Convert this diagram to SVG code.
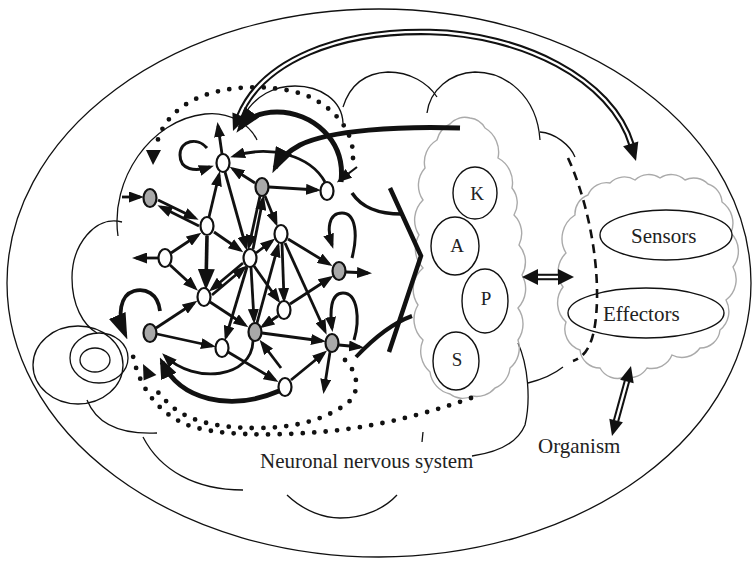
<svg xmlns="http://www.w3.org/2000/svg" width="754" height="563" viewBox="0 0 754 563">
<defs>
<style>
.thin{fill:none;stroke:#111;stroke-width:1.3}
.cloud{fill:none;stroke:#aaa;stroke-width:1.4}
.ar{fill:none;stroke:#111;stroke-width:2.8;marker-end:url(#ah)}
.ar3{fill:none;stroke:#111;stroke-width:3.6;marker-end:url(#ahB)}
.thick{fill:none;stroke:#111;stroke-width:5}
.dot{fill:none;stroke:#111;stroke-width:4.8;stroke-linecap:round;stroke-dasharray:0 11.5}
.nw{fill:#fff;stroke:#111;stroke-width:2.2}
.ng{fill:#a9a9a9;stroke:#111;stroke-width:2.2}
.lbl{font-family:"Liberation Serif","Times New Roman",serif;font-size:21px;fill:#222}
.ltr{font-family:"Liberation Serif","Times New Roman",serif;font-size:19px;fill:#222;text-anchor:middle}
.oval{fill:#fff;stroke:#111;stroke-width:1.4}
.dbl{fill:none;stroke:#111;stroke-width:6.5}
.dblw{fill:none;stroke:#fff;stroke-width:2.4}
.hd{fill:#111}
</style>
<marker id="ah" viewBox="0 0 15 11" refX="11" refY="5.5" markerWidth="15" markerHeight="11" markerUnits="userSpaceOnUse" orient="auto"><path d="M0,0 L15,5.5 L0,11 z" fill="#111"/></marker>
<marker id="ahB" viewBox="0 0 21 17" refX="16" refY="8.5" markerWidth="21" markerHeight="17" markerUnits="userSpaceOnUse" orient="auto"><path d="M0,0 L21,8.5 L0,17 z" fill="#111"/></marker>
<marker id="ahT" viewBox="0 0 26 18" refX="20" refY="9" markerWidth="26" markerHeight="18" markerUnits="userSpaceOnUse" orient="auto"><path d="M0,0 L26,9 L0,18 z" fill="#111"/></marker>
</defs>
<rect width="754" height="563" fill="#fff"/>

<g id="organism-outline">
<ellipse class="thin" cx="379" cy="283" rx="372" ry="274"/>
</g>

<g id="nervous-system-outline">
<path class="thin" d="M118,236 C110,180 150,120 205,114 C230,111 250,125 257,140"/>
<path class="thin" d="M122,222 C95,215 72,245 72,278 C72,305 83,325 97,333"/>
<path class="thin" d="M243,117 C255,95 275,86 295,86 C320,86 342,100 343,123"/>
<path class="thin" d="M343,107 C350,85 365,73 388,72 C410,72 428,83 437,97"/>
<path class="thin" d="M427,113 C430,90 450,73 475,72 C505,72 537,95 540,140"/>
<path class="thin" d="M540,132 C555,133 570,145 575,157"/>
<path class="thin" d="M518,343 C528,365 531,400 525,425 C518,442 500,452 472,456"/>
<path class="thin" d="M528,383 C540,380 553,375 563,367"/>
<path class="thin" d="M87,400 C95,420 115,435 157,433"/>
<path class="thin" d="M143,437 C160,470 195,490 243,490"/>
<path class="thin" d="M287,495 C305,512 325,518 340,518 C365,518 385,508 397,495"/>
<path class="thin" d="M423,432 L422,442"/>
<ellipse class="thin" cx="78" cy="365" rx="45" ry="39"/>
<ellipse class="thin" cx="99" cy="358" rx="29" ry="25"/>
<ellipse class="thin" cx="95" cy="360" rx="15" ry="12"/>
</g>

<g id="kaps-cloud">
<path class="cloud" d="M437,140 A24,24 0 0 1 450,124 A20,20 0 0 1 470,118 A20,20 0 0 1 485,128 A28,28 0 0 1 498,158 A28,28 0 0 1 512,188 A24,24 0 0 1 514,215 A26,26 0 0 1 519,245 A26,26 0 0 1 522,275 A28,28 0 0 1 518,308 A28,28 0 0 1 518,340 A26,26 0 0 1 510,368 A24,24 0 0 1 495,388 A24,24 0 0 1 472,396 A20,20 0 0 1 450,394 A26,26 0 0 1 430,372 A28,28 0 0 1 423,340 A28,28 0 0 1 418,305 A28,28 0 0 1 423,268 A28,28 0 0 1 419,235 A28,28 0 0 1 423,200 A26,26 0 0 1 425,168 A26,26 0 0 1 437,140 Z"/>
</g>
<g id="body-cloud">
<path class="cloud" d="M575,215 A20,20 0 0 1 588,195 A20,20 0 0 1 610,183 A20,20 0 0 1 635,180 A20,20 0 0 1 660,178 A20,20 0 0 1 685,180 A20,20 0 0 1 708,184 A20,20 0 0 1 722,202 A26,26 0 0 1 731,233 A26,26 0 0 1 733,267 A26,26 0 0 1 726,300 A24,24 0 0 1 720,330 A20,20 0 0 1 700,348 A22,22 0 0 1 672,355 A22,22 0 0 1 647,368 A20,20 0 0 1 625,377 A20,20 0 0 1 600,368 A20,20 0 0 1 580,350 A22,22 0 0 1 566,322 A26,26 0 0 1 563,287 A26,26 0 0 1 566,253 A28,28 0 0 1 575,215 Z"/>
</g>

<g id="K"><ellipse class="oval" cx="475" cy="193" rx="22" ry="26"/><text class="ltr" x="477" y="200">K</text></g>
<g id="A"><ellipse class="oval" cx="455" cy="246" rx="24" ry="29"/><text class="ltr" x="457" y="252">A</text></g>
<g id="P"><ellipse class="oval" cx="485" cy="301" rx="23" ry="32"/><text class="ltr" x="486" y="305">P</text></g>
<g id="S"><ellipse class="oval" cx="456" cy="361" rx="23" ry="29"/><text class="ltr" x="457" y="366">S</text></g>
<g id="sensors"><ellipse class="oval" cx="666" cy="235" rx="66" ry="25"/><text class="lbl" x="631" y="243">Sensors</text></g>
<g id="effectors"><ellipse class="oval" cx="646" cy="313" rx="78" ry="25"/></g>

<g id="connectors">
<path d="M568,158 C585,195 598,250 597,300 C596,335 590,355 573,361" fill="none" stroke="#111" stroke-width="2.6" stroke-dasharray="9 6"/>

<path class="dbl" d="M239,117 C262,60 340,30 430,32 C520,34 612,78 632,146"/>
<path class="dblw" d="M239,117 C262,60 340,30 430,32 C520,34 612,78 632,146"/>
<polygon class="hd" points="233,131 232.4,112.4 246.4,118"/>
<polygon class="hd" points="636,161 638.3,141.4 623.1,146.2"/>

<path class="dbl" d="M537,277 H559"/>
<path class="dblw" d="M536,277 H560"/>
<polygon class="hd" points="522,277 538,269 538,285"/>
<polygon class="hd" points="574,277 558,269 558,285"/>

<path class="dbl" d="M627,381 L616,421"/>
<path class="dblw" d="M627,381 L616,421"/>
<polygon class="hd" points="631,366 633.7,383.3 620.1,379.7"/>
<polygon class="hd" points="612,436 622.9,422.3 609.3,418.7"/>

<path class="dot" d="M353,158 C354,135 340,112 310,97 C285,86 240,83 205,95 C180,104 160,122 156,148"/>
<polygon class="hd" points="146,150 161,150 153,165"/>
<path class="ar" style="stroke-width:2.2" d="M357,167 L340,180"/>
<path class="dot" d="M471,398 C420,416 370,428 320,432 C270,436 215,436 185,424 C160,413 140,390 133,356"/>
<path class="dot" d="M345,360 C360,375 360,395 345,405 C320,422 290,428 255,428 C215,428 185,420 168,403 C160,395 155,389 152,384"/>
<polygon class="hd" points="143,364 156.4,375 143.6,380.6"/>

<path class="thick" style="marker-end:url(#ahT)" d="M460,128 C400,126 330,130 300,145 C287,152 279,160 275,168"/>
<path class="thick" style="marker-end:url(#ahT)" d="M341,182 C346,140 312,112 277,112 C258,112 246,120 240,128"/>
<path class="ar" style="stroke-width:2.8" d="M325,182 C310,155 270,145 234,156"/>
<polyline fill="none" stroke="#111" stroke-width="4.5" points="390,188 421,256 389,352"/>
<path fill="none" stroke="#111" stroke-width="3.5" d="M352,193 C362,208 378,214 402,214"/>
<path fill="none" stroke="#111" stroke-width="4" d="M356,357 C372,340 390,324 412,316"/>

<path class="ar" style="stroke-width:3" d="M207,148 C198,137 180,140 180,155 C180,170 195,172 210,167"/>
<path class="ar" style="stroke-width:3" d="M352,258 C358,235 356,213 342,213 C328,213 327,230 332,245"/>
<path class="ar" style="stroke-width:3" d="M354,340 C360,320 358,293 343,293 C330,293 330,313 332,328"/>
<path fill="none" stroke="#111" stroke-width="3.8" style="marker-end:url(#ahT)" d="M160,311 C158,293 145,288 134,291 C120,295 117,315 125,334"/>

<path class="ar" d="M122,197 L140,197"/>
<path class="ar" d="M158,200 L195,218"/>
<path class="ar" d="M199,226 L161,207"/>
<path class="ar" d="M209,217 L219,175"/>
<path class="ar" d="M222,154 L218,126"/>
<path class="ar" d="M225,172 L246,247"/>
<path class="ar" d="M255,183 L233,169"/>
<path class="ar" d="M269,187 L317,190"/>
<path class="ar" d="M265,196 L276,223"/>
<path class="ar" d="M260,196 L249,246"/>
<path class="ar" d="M253,249 L263,199"/>
<path class="ar" d="M214,232 L240,250"/>
<path class="ar" d="M171,253 L198,235"/>
<path class="ar" d="M159,258 L136,258"/>
<path class="ar" d="M170,265 L195,288"/>
<path class="ar3" d="M207,236 L206,285"/>
<path class="ar" d="M243,263 L212,289"/>
<path class="ar" d="M212,295 L244,268"/>
<path class="ar" d="M256,253 L272,241"/>
<path class="ar" d="M288,239 L329,264"/>
<path class="ar" d="M282,243 L284,299"/>
<path class="ar" d="M285,243 L325,331"/>
<path class="ar" d="M251,267 L254,320"/>
<path class="ar" d="M257,323 L278,246"/>
<path class="ar" d="M290,304 L330,278"/>
<path class="ar" d="M346,272 L368,273"/>
<path class="ar" d="M262,333 L322,341"/>
<path class="ar" d="M278,316 L263,326"/>
<path class="ar" d="M281,368 L262,343"/>
<path class="ar" d="M330,352 L324,390"/>
<path class="ar" d="M339,345 L360,347"/>
<path class="ar" d="M156,328 L194,303"/>
<path class="ar" d="M157,334 L212,346"/>
<path class="ar" d="M228,352 L275,380"/>
<path class="ar" d="M291,380 L324,353"/>
<path class="ar" d="M210,302 L245,325"/>
<path class="ar" d="M247,267 L226,337"/>
<path class="ar" d="M254,266 L278,300"/>
<path fill="none" stroke="#111" stroke-width="4.8" style="marker-end:url(#ahB)" d="M279,391 C230,412 180,400 162,362"/>
<path class="ar" d="M253,341 C252,378 195,385 165,356"/>
</g>

<g id="n1"><ellipse class="nw" cx="223" cy="163" rx="6.5" ry="9"/></g>
<g id="n2"><ellipse class="ng" cx="262" cy="187" rx="6.5" ry="9"/></g>
<g id="n3"><ellipse class="nw" cx="327" cy="191" rx="6.5" ry="9"/></g>
<g id="n4"><ellipse class="ng" cx="150" cy="198" rx="6.5" ry="9"/></g>
<g id="n5"><ellipse class="nw" cx="207" cy="226" rx="6.5" ry="9"/></g>
<g id="n6"><ellipse class="nw" cx="281" cy="234" rx="6.5" ry="9"/></g>
<g id="n7"><ellipse class="nw" cx="250" cy="258" rx="6.5" ry="9"/></g>
<g id="n8"><ellipse class="nw" cx="165" cy="258" rx="6.5" ry="9"/></g>
<g id="n9"><ellipse class="ng" cx="339" cy="271" rx="6.5" ry="9"/></g>
<g id="n10"><ellipse class="nw" cx="204" cy="297" rx="6.5" ry="9"/></g>
<g id="n11"><ellipse class="nw" cx="284" cy="310" rx="6.5" ry="9"/></g>
<g id="n12"><ellipse class="ng" cx="255" cy="332" rx="6.5" ry="9"/></g>
<g id="n13"><ellipse class="ng" cx="332" cy="343" rx="6.5" ry="9"/></g>
<g id="n14"><ellipse class="ng" cx="150" cy="333" rx="6.5" ry="9"/></g>
<g id="n15"><ellipse class="nw" cx="222" cy="348" rx="6.5" ry="9"/></g>
<g id="n16"><ellipse class="nw" cx="285" cy="387" rx="6.5" ry="9"/></g>

<g id="labels">
<text class="lbl" x="603" y="321">Effectors</text>
<text class="lbl" x="260" y="468">Neuronal nervous system</text>
<text class="lbl" x="538" y="453">Organism</text>
</g>
</svg>
